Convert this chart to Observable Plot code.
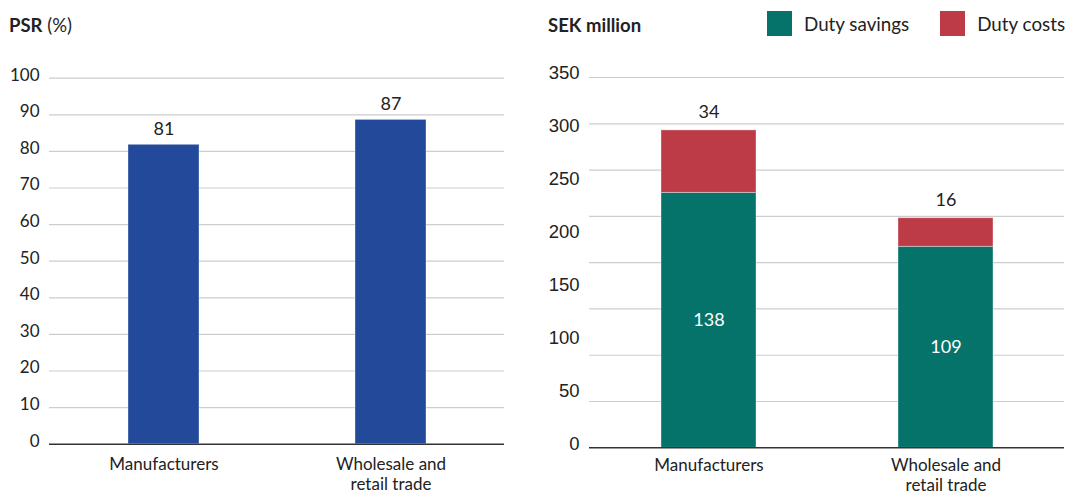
<!DOCTYPE html>
<html>
<head>
<meta charset="utf-8">
<script src="https://cdn.jsdelivr.net/npm/d3@7"></script>
<script src="https://cdn.jsdelivr.net/npm/@observablehq/plot@0.6"></script>
<style>
  html, body { margin: 0; padding: 0; background: #fff; }
  #wrap { position: relative; width: 1067px; height: 495px; overflow: hidden; font-family: Lato, "Noto Sans", sans-serif; color: #222; }
  .panel { position: absolute; top: 0; }
  .title { position: absolute; top: 13px; font-size: 18.5px; line-height: 24px; color: #222; white-space: nowrap; }
  .title b { font-weight: 700; }
  .legend { position: absolute; top: 11px; display: flex; align-items: center; font-size: 18.8px; line-height: 25px; color: #222; white-space: nowrap; }
  .sw { width: 25px; height: 25px; display: inline-block; margin-right: 12px; }
</style>
</head>
<body>
<div id="wrap">
  <div id="left" class="panel" style="left:0"></div>
  <div id="right" class="panel" style="left:537px"></div>
  <div class="title" style="left:9px"><b>PSR</b> (%)</div>
  <div class="title" style="left:548px"><b>SEK million</b></div>
  <div class="legend" style="left:767px" id="legend"></div>
</div>
<script>
// ---- data ----
const categories = ["Manufacturers", "Wholesale and retail trade"];
const categoryLabels = ["Manufacturers", "Wholesale and\nretail trade"];

// Left panel: PSR (%)
const psrValues = [81.8, 88.6];          // bar heights as drawn
const psrLabels = ["81", "87"];          // printed value labels
const psrTicks = [0, 10, 20, 30, 40, 50, 60, 70, 80, 90, 100];

// Right panel: SEK million (stacked)
const seriesNames = ["Duty savings", "Duty costs"];
const savingsValues = [241, 190];        // bar heights as drawn (axis units)
const costsValues = [59, 27];
const savingsLabels = ["138", "109"];    // printed value labels
const costsLabels = ["34", "16"];
const sekTicks = [0, 50, 100, 150, 200, 250, 300, 350];
const sekGridCount = 8;                  // gridline intervals drawn in the picture

// ---- colours ----
const blue = "#234a9a";
const teal = "#06736b";
const red = "#bd3b47";
const gridColor = "#cdcdcd";
const ink = "#222";

const labelOf = d => categoryLabels[categories.indexOf(d)];

// ---- left chart ----
const psrData = categories.map((c, i) => ({cat: c, value: psrValues[i], label: psrLabels[i]}));
const left = Plot.plot({
  width: 530, height: 495,
  marginLeft: 49, marginRight: 26, marginTop: 77.7, marginBottom: 51.3,
  style: {fontFamily: "Lato, sans-serif", color: ink, background: "transparent"},
  x: {domain: categories, paddingInner: 0.688, paddingOuter: 0.344, axis: null},
  y: {domain: [0, 100], axis: null},
  marks: [
    Plot.gridY(psrTicks.filter(t => t > 0), {stroke: gridColor, strokeOpacity: 1, strokeWidth: 1.2}),
    Plot.axisY(psrTicks, {tickSize: 0, tickPadding: 10, fontSize: 17, dy: -3, fill: ink, label: null}),
    Plot.barY(psrData, {x: "cat", y: "value", fill: blue, stroke: "#fff", strokeOpacity: 0.4, strokeWidth: 0.8}),
    Plot.text(psrData, {x: "cat", y: "value", text: "label", dy: -16, fontSize: 18, fill: ink}),
    Plot.ruleY([0], {stroke: "#333", strokeWidth: 1.4}),
    Plot.axisX({tickSize: 0, tickPadding: 12, fontSize: 17, lineHeight: 1.18, fill: ink, tickFormat: labelOf, label: null})
  ]
});
document.getElementById("left").appendChild(left);

// ---- right chart ----
const sekData = [];
categories.forEach((c, i) => {
  sekData.push({cat: c, series: seriesNames[0], value: savingsValues[i], label: savingsLabels[i]});
  sekData.push({cat: c, series: seriesNames[1], value: costsValues[i], label: costsLabels[i]});
});
const sekMax = sekTicks[sekTicks.length - 1];
const sekGrid = d3.range(1, sekGridCount + 1).map(k => k * sekMax / sekGridCount);

const right = Plot.plot({
  width: 530, height: 495,
  marginLeft: 52, marginRight: 3, marginTop: 77, marginBottom: 47.7,
  style: {fontFamily: "Lato, sans-serif", color: ink, background: "transparent"},
  x: {domain: categories, paddingInner: 0.60, paddingOuter: 0.30, axis: null},
  y: {domain: [0, sekMax], axis: null},
  color: {domain: seriesNames, range: [teal, red]},
  marks: [
    Plot.gridY(sekGrid, {stroke: gridColor, strokeOpacity: 1, strokeWidth: 1.2}),
    Plot.axisY(sekTicks, {tickSize: 0, tickPadding: 10, fontSize: 18.5, dy: -4, fill: ink, fontFamily: "Liberation Sans, Arial, sans-serif", label: null}),
    Plot.barY(sekData, {x: "cat", y: "value", fill: "series", stroke: "#fff", strokeOpacity: 0.45, strokeWidth: 0.8}),
    Plot.text(sekData, Plot.stackY({filter: d => d.series === seriesNames[0], x: "cat", y: "value", text: "label", fill: "#fff", fontSize: 18, dy: 0})),
    Plot.text(sekData, Plot.stackY2({x: "cat", y: "value", text: d => d.series === seriesNames[1] ? d.label : "", fill: ink, fontSize: 18, dy: -18})),
    Plot.ruleY([0], {stroke: "#333", strokeWidth: 1.4}),
    Plot.axisX({tickSize: 0, tickPadding: 8.5, fontSize: 17, lineHeight: 1.18, fill: ink, tickFormat: labelOf, label: null})
  ]
});
document.getElementById("right").appendChild(right);

// ---- legend ----
const legend = document.getElementById("legend");
seriesNames.forEach((name, i) => {
  const item = document.createElement("span");
  item.style.display = "inline-flex";
  item.style.alignItems = "center";
  item.style.marginRight = i === 0 ? "31px" : "0";
  const sw = document.createElement("span");
  sw.className = "sw";
  sw.style.background = i === 0 ? teal : red;
  const tx = document.createElement("span");
  tx.textContent = name;
  item.appendChild(sw);
  item.appendChild(tx);
  legend.appendChild(item);
});
</script>
</body>
</html>
